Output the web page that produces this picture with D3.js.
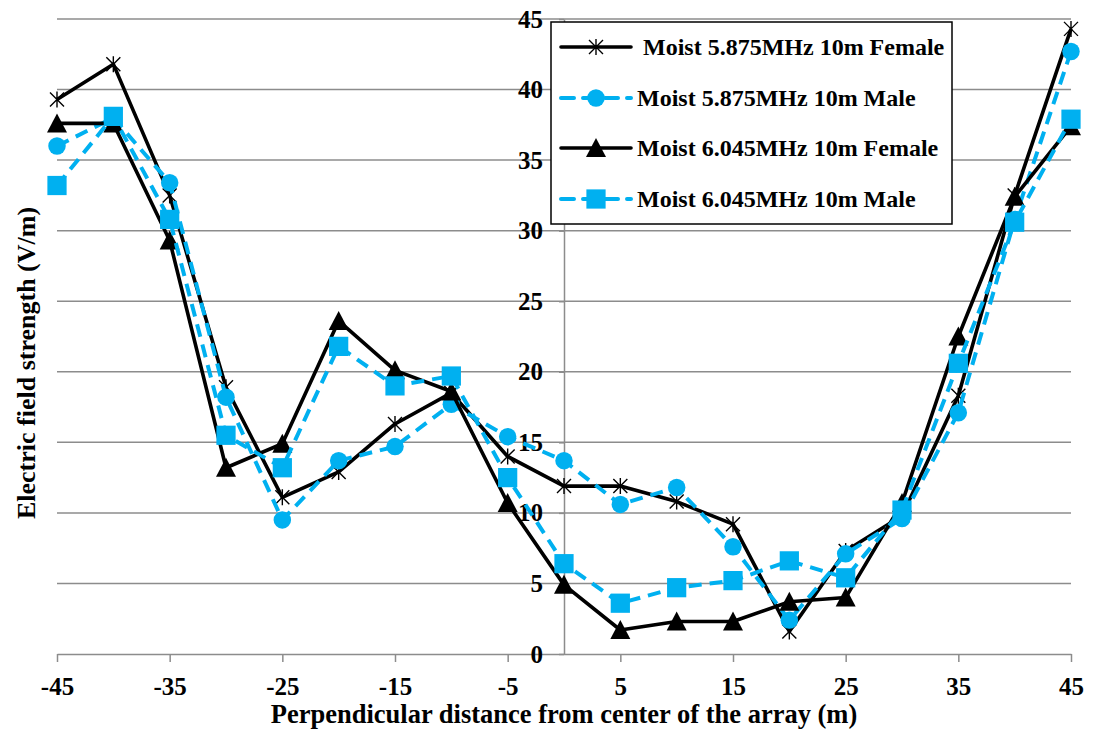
<!DOCTYPE html>
<html>
<head>
<meta charset="utf-8">
<script src="https://cdn.jsdelivr.net/npm/d3@7"></script>
<style>
  body { margin: 0; background: #fff; }
  text { font-family: "Liberation Serif", "Times New Roman", serif; font-weight: bold; fill: #000; }
</style>
</head>
<body>
<div class="container"></div>
<script>
// distance from array centre (m)
const distance = [-45, -40, -35, -30, -25, -20, -15, -10, -5, 0, 5, 10, 15, 20, 25, 30, 35, 40, 45]

// electric field strength (V/m)
const moist5875Female = [39.3, 41.8, 32.5, 18.9, 11.1, 12.9, 16.3, 18.5, 14.0, 11.9, 11.9, 10.8, 9.2, 1.6, 7.3, 9.8, 18.3, 32.5, 44.3]
const moist5875Male   = [36.0, 38.0, 33.4, 18.2, 9.5, 13.7, 14.7, 17.7, 15.4, 13.7, 10.6, 11.8, 7.6, 2.4, 7.1, 9.6, 17.1, 30.8, 42.7]
const moist6045Female = [37.6, 37.6, 29.3, 13.2, 14.9, 23.6, 20.1, 18.6, 10.7, 4.9, 1.7, 2.3, 2.3, 3.7, 4.0, 10.7, 22.5, 32.4, 37.4]
const moist6045Male   = [33.2, 38.1, 30.8, 15.5, 13.2, 21.8, 19.0, 19.7, 12.5, 6.4, 3.6, 4.7, 5.2, 6.6, 5.4, 10.2, 20.6, 30.6, 37.9]

const seriesNames = ['Moist 5.875MHz 10m Female', 'Moist 5.875MHz 10m Male', 'Moist 6.045MHz 10m Female', 'Moist 6.045MHz 10m Male']
const xTicks = [-45, -35, -25, -15, -5, 5, 15, 25, 35, 45]
const yTicks = [0, 5, 10, 15, 20, 25, 30, 35, 40, 45]

const width = 1096, height = 733
const cyan = '#00b0f0'
const grid = '#8c8c8c'

const svg = d3.select('.container').append('svg')
    .attr('width', width).attr('height', height)

const x = d3.scaleLinear().domain([-45, 45]).range([57, 1071])
const y = d3.scaleLinear().domain([0, 45]).range([654, 19])

// horizontal gridlines
svg.append('g')
    .selectAll('line')
    .data(yTicks.slice(1))
    .enter().append('line')
        .attr('x1', x(-45)).attr('x2', x(45))
        .attr('y1', d => y(d)).attr('y2', d => y(d))
        .attr('stroke', grid).attr('stroke-width', 1.5)

// x axis (plain hyphen for negatives, like the original)
const xAxis = svg.append('g')
    .attr('transform', `translate(0,${y(0)})`)
    .call(d3.axisBottom(x).tickValues(xTicks).tickFormat(d => String(d))
        .tickSize(8).tickSizeOuter(0).tickPadding(15))
xAxis.select('.domain').attr('stroke', grid).attr('stroke-width', 1.5)
xAxis.selectAll('.tick line').attr('stroke', grid).attr('stroke-width', 1.5)
xAxis.selectAll('.tick text').style('font-size', '25px')

// y axis through x = 0
const yAxis = svg.append('g')
    .attr('transform', `translate(${x(0)},0)`)
    .call(d3.axisLeft(y).tickValues(yTicks).tickSize(5).tickSizeOuter(0).tickPadding(16))
yAxis.select('.domain').attr('stroke', grid).attr('stroke-width', 1.5)
yAxis.selectAll('.tick line').attr('stroke', grid).attr('stroke-width', 1.5)
yAxis.selectAll('.tick text').style('font-size', '25px')

// axis titles
svg.append('text')
    .attr('x', x(0)).attr('y', 723)
    .attr('text-anchor', 'middle')
    .style('font-size', '26.5px')
    .text('Perpendicular distance from center of the array (m)')

svg.append('text')
    .attr('transform', 'translate(35,363) rotate(-90)')
    .attr('text-anchor', 'middle')
    .style('font-size', '26px')
    .text('Electric field strength (V/m)')

// markers
const asterisk = 'M-7,-7L7,7M-7,7L7,-7M0,-8L0,8'
const triangle = 'M0,-10L10,9L-10,9Z'
const circle = d3.symbol().type(d3.symbolCircle).size(240)()
const square = d3.symbol().type(d3.symbolSquare).size(370)()

const series = [
    {name: seriesNames[0], values: moist5875Female, color: '#000', dash: null, width: 3.6, marker: asterisk, markerFill: 'none', markerStroke: '#000'},
    {name: seriesNames[1], values: moist5875Male, color: cyan, dash: '13,8', width: 4, marker: circle, markerFill: cyan, markerStroke: 'none'},
    {name: seriesNames[2], values: moist6045Female, color: '#000', dash: null, width: 3.6, marker: triangle, markerFill: '#000', markerStroke: 'none'},
    {name: seriesNames[3], values: moist6045Male, color: cyan, dash: '13,8', width: 4, marker: square, markerFill: cyan, markerStroke: 'none'}
]

const line = d3.line()
    .x(d => x(d[0]))
    .y(d => y(d[1]))

series.forEach(s => {
    const pts = distance.map((d, i) => [d, s.values[i]])
    const g = svg.append('g')
    g.append('path')
        .datum(pts)
        .attr('d', line)
        .attr('fill', 'none')
        .attr('stroke', s.color)
        .attr('stroke-width', s.width)
        .attr('stroke-dasharray', s.dash)
        .attr('stroke-linejoin', 'round')
    g.selectAll('path.mk')
        .data(pts)
        .enter().append('path')
            .attr('class', 'mk')
            .attr('d', s.marker)
            .attr('transform', d => `translate(${x(d[0])},${y(d[1])})`)
            .attr('fill', s.markerFill)
            .attr('stroke', s.markerStroke)
            .attr('stroke-width', 1.4)
})

// legend
const legend = svg.append('g')
legend.append('rect')
    .attr('x', 551).attr('y', 22)
    .attr('width', 401).attr('height', 202)
    .attr('fill', '#fff').attr('stroke', '#000').attr('stroke-width', 1.5)

const legendY = [47, 98, 148, 199]
const legendTextX = [643, 637, 637, 637]
series.forEach((s, i) => {
    const ly = legendY[i]
    legend.append('line')
        .attr('x1', 561).attr('x2', 631)
        .attr('y1', ly).attr('y2', ly)
        .attr('stroke', s.color)
        .attr('stroke-width', s.width)
        .attr('stroke-linecap', 'round')
        .attr('stroke-dasharray', s.dash ? '13,9' : null)
    legend.append('path')
        .attr('d', s.marker)
        .attr('transform', `translate(596,${ly})`)
        .attr('fill', s.markerFill)
        .attr('stroke', s.markerStroke)
        .attr('stroke-width', 1.4)
    legend.append('text')
        .attr('x', legendTextX[i]).attr('y', ly + 8)
        .style('font-size', '24px')
        .text(s.name)
})
</script>
</body>
</html>
